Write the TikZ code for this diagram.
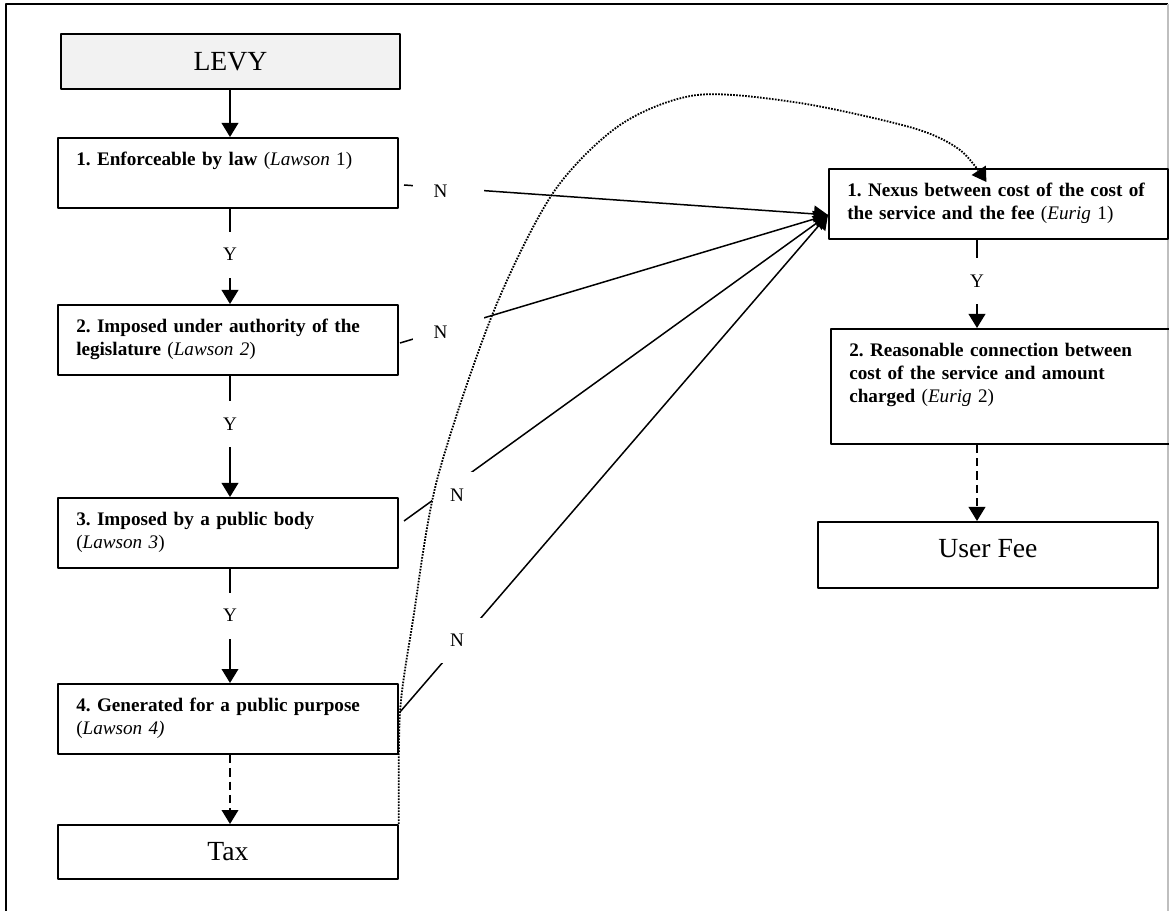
\documentclass[tikz,border=0pt]{standalone}
\usepackage{fontspec}
\setmainfont{Liberation Serif}
\usetikzlibrary{arrows.meta,backgrounds,calc}
\frenchspacing

\newcommand{\critfont}{\fontsize{11.5}{13.8}\selectfont}
\newcommand{\bigfont}{\fontsize{16.6}{19}\selectfont}
\newcommand{\ynfont}{\fontsize{11.5}{13}\selectfont}

\tikzset{
  box/.style={draw,line width=1.1pt,inner sep=0pt,anchor=north west},
  crit/.style={box,text width=182pt,inner xsep=11pt,inner ysep=3.6pt,align=left,
    text height=13.2pt,text depth=21.6pt,font=\critfont},
  outcome/.style={box,minimum width=204pt,text height=21.6pt,text depth=10.8pt,font=\bigfont},
  ylab/.style={fill=white,minimum height=27.6pt,inner xsep=2pt,font=\ynfont},
  nlab/.style={fill=white,inner sep=0pt,minimum width=30.6pt,minimum height=27pt,font=\ynfont},
  nwide/.style={nlab,text width=42.6pt,align=left},
  flow/.style={->,line width=0.9pt},
}

\begin{document}
\begin{tikzpicture}[x=0.6pt,y=-0.6pt,>={Triangle[length=8.4pt,width=10pt]},line join=round]
\useasboundingbox (0,0) rectangle (1169,911);
\draw[line width=0.9pt] (6,930)--(6,4)--(1168,4);
\draw[black!25,line width=0.8pt] (1168,4)--(1168,930);

% left column
\node[outcome,fill=black!5,minimum width=203.4pt,text height=22.2pt] (levy) at (60,33) {LEVY};
\node[crit] (b1) at (57,137) {\textbf{1. Enforceable by law} (\textit{Lawson} 1)};
\node[crit] (b2) at (57,304) {\textbf{2. Imposed under authority of the}\\
  \textbf{legislature} (\textit{Lawson 2})};
\node[crit] (b3) at (57,497) {\textbf{3. Imposed by a public body}\\(\textit{Lawson 3})};
\node[crit] (b4) at (57,683) {\textbf{4. Generated for a public purpose}\\(\textit{Lawson 4)}};
\node[outcome] (tax) at (57,824) {Tax};

% right column
\node[crit,text width=181.4pt] (e1) at (828,168) {\textbf{1. Nexus between cost of the cost of}\\
  \textbf{the service and the fee} (\textit{Eurig} 1)};
\node[crit,text depth=48.6pt] (e2) at (830,328) {\textbf{2. Reasonable connection between}\\
  \textbf{cost of the service and amount}\\\textbf{charged} (\textit{Eurig} 2)};
\node[outcome,text depth=18pt] (fee) at (817,521) {User Fee};

\coordinate (lc) at (230,0);
\coordinate (rc) at (977,0);

\draw[flow] (levy.south -| lc) -- (b1.north -| lc);
\draw[flow] (b1.south -| lc) -- node[ylab,pos=.48] (y1) {Y} (b2.north -| lc);
\draw[flow] (b2.south -| lc) -- node[ylab,pos=.40] (y2) {Y} (b3.north -| lc);
\draw[flow] (b3.south -| lc) -- node[ylab,pos=.41] (y3) {Y} (b4.north -| lc);
\draw[flow,dash pattern=on 5pt off 3pt] (b4.south -| lc) -- (tax.north -| lc);

\draw[flow] (e1.south -| rc) -- node[ylab,pos=.47] (y5) {Y} (e2.north -| rc);
\draw[flow,dash pattern=on 5pt off 3pt] (e2.south -| rc) -- (fee.north -| rc);

% the N branches
\coordinate (s1) at (404,185);
\coordinate (s2) at (400,343);
\coordinate (s3) at (404,521);
\coordinate (s4) at (400,712);
\coordinate (ew) at ($(e1.west)+(0,11)$);
\coordinate (et) at ($(e1.north)+(-12,14)$);
\begin{scope}[on background layer]
  \foreach \s in {s1,s2,s3,s4}
    \draw[flow] (\s) -- (ew);
\end{scope}
\node[nwide] (n1) at (448.5,191) {\hspace*{12.3pt}N};
\node[nwide] (n2) at (448.5,332) {\hspace*{12.3pt}N};
\node[nlab] (n3) at (457,495) {N};
\node[nlab] (n4) at (457,640) {N};

\draw[->,line width=1.1pt,dash pattern=on 1pt off 0.8pt] plot[smooth] coordinates
  {(tax.north east) (400,712) (413,620) (437,480) (493,313) (553,193) (620,125)
   (697,95) (800,103) (913,128) (960,150) (et)};
\end{tikzpicture}
\end{document}
